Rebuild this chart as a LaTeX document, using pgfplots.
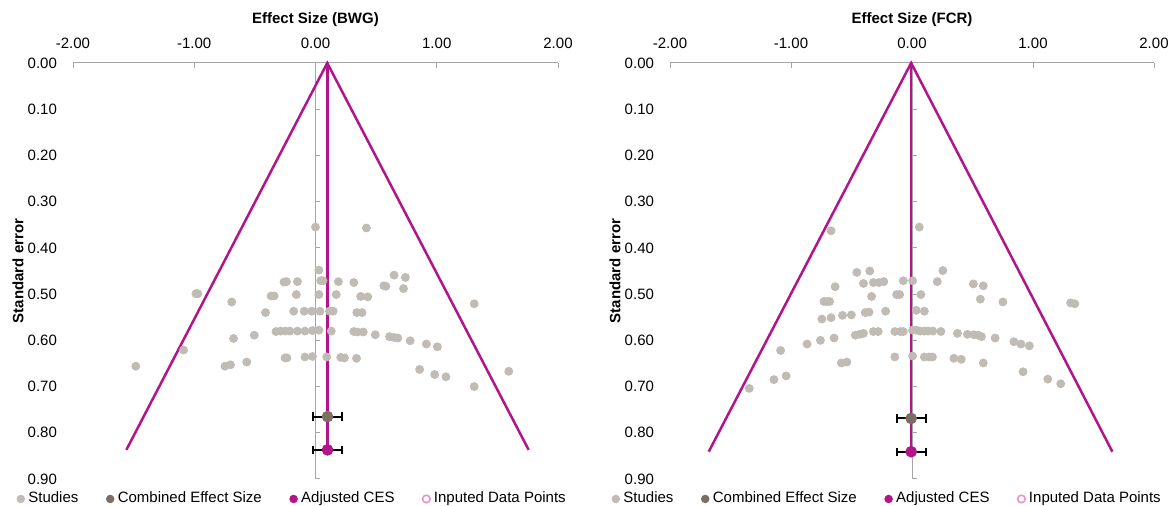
\documentclass[border=0pt]{standalone}
\usepackage{pgfplots}
\pgfplotsset{compat=1.18}
\usepackage{fontspec}
\setmainfont{Liberation Sans}
\definecolor{studygray}{RGB}{192,187,181}
\definecolor{cesbrown}{RGB}{124,110,99}
\definecolor{adjmag}{RGB}{178,20,138}
\definecolor{impink}{RGB}{232,150,200}
\definecolor{axgray}{RGB}{165,165,165}
\newcommand{\fs}{\fontsize{7.5}{9}\selectfont}
\pgfplotsset{
  funnel/.style={
    scale only axis, height=208pt,
    xmin=-2, xmax=2, ymin=0, ymax=0.9, y dir=reverse,
    axis x line=top, axis y line=left,
    x axis line style={axgray, line width=0.5pt, -},
    y axis line style={draw=none, -},
    xtick={-2,-1,0,1,2},
    ytick={0,0.1,0.2,0.3,0.4,0.5,0.6,0.7,0.8,0.9},
    tick align=inside,
    major tick length=2.5pt,
    xtick style={axgray, line width=0.5pt},
    ytick style={draw=none},
    ticklabel style={font=\fs},
    /pgf/number format/.cd, fixed, fixed zerofill, precision=2, assume math mode=true, /pgfplots/.cd,
    xticklabel style={anchor=base, yshift=7.3pt},
    yticklabel style={anchor=east, xshift=-4.5pt},
    label style={font=\bfseries\fs},
    xlabel style={at={(axis description cs:0.5,1.095)}, anchor=base},
    ylabel style={at={(axis description cs:-0.1134,0.5)}, anchor=center},
    ylabel={Standard error},
    legend columns=4,
    legend style={draw=none, fill=none, inner sep=0pt, outer sep=0pt, font=\fs,
      nodes={inner sep=0pt},
      /tikz/every odd column/.append style={column sep=1.9pt},
      /tikz/every even column/.append style={column sep=14pt},
      /tikz/column 2/.append style={column sep=15pt}},
    legend image code/.code={\draw[#1, mark size=1.9pt] plot coordinates {(0pt,0pt)};},
    clip=false,
  },
  studies/.style={only marks, mark=*, mark size=2pt, studygray, mark options={draw=studygray, fill=studygray}},
  funnelline/.style={forget plot, adjmag, line width=1.25pt, no markers},
  centerline/.style={forget plot, axgray, line width=0.5pt, no markers},
  yticks/.style={forget plot, only marks, mark=-, mark size=1.25pt, mark options={axgray, line width=0.5pt}},
  ces/.style={only marks, mark=*, mark size=2.7pt, color=cesbrown,
    error bars/.cd, x dir=both, x explicit, error bar style={black, line width=1pt}, error mark options={black, line width=1.1pt, mark size=2.1pt, rotate=90}},
  adj/.style={only marks, mark=*, mark size=2.7pt, color=adjmag,
    error bars/.cd, x dir=both, x explicit, error bar style={black, line width=1pt}, error mark options={black, line width=1.1pt, mark size=2.1pt, rotate=90}},
}
\begin{document}
\begin{tikzpicture}
\useasboundingbox (0,0) rectangle (584.5pt,253pt);
% ---------------- Left: BWG ----------------
\begin{axis}[funnel, width=242.5pt, at={(36.5pt,13.5pt)}, anchor=south west,
  xlabel={Effect Size (BWG)},
  legend style={at={(axis description cs:-0.1155,-0.048)}, anchor=west}]
\addplot[centerline] coordinates {(0,0) (0,0.9)};
\addplot[yticks] coordinates {(0.0206,0.1) (0.0206,0.2) (0.0206,0.3) (0.0206,0.4) (0.0206,0.5) (0.0206,0.6) (0.0206,0.7) (0.0206,0.8) (0.0206,0.9)};
\addplot[studies] coordinates {
(0.00,0.355) (0.42,0.357) (0.028,0.448)
(-0.26,0.474) (-0.24,0.473) (-0.149,0.473) (0.043,0.471) (0.062,0.471)
(0.189,0.473) (0.316,0.475) (0.564,0.482) (0.58,0.483) (0.648,0.459)
(0.741,0.464) (0.726,0.488) (-0.986,0.499) (-0.971,0.499)
(-0.366,0.504) (-0.341,0.504) (-0.158,0.501) (0.028,0.501) (0.171,0.501)
(0.372,0.505) (0.431,0.506) (-0.691,0.517) (1.309,0.521) (-0.412,0.540)
(-0.18,0.537) (-0.093,0.537) (-0.031,0.537) (0.037,0.537) (0.115,0.537) (0.146,0.537)
(0.341,0.540) (0.384,0.540) (-0.505,0.589) (-0.676,0.596)
(-0.326,0.581) (-0.288,0.580) (-0.248,0.580) (-0.211,0.580) (-0.149,0.580)
(-0.087,0.580) (-0.025,0.579) (0.028,0.578) (0.130,0.580)
(0.316,0.581) (0.347,0.582) (0.394,0.582) (0.493,0.588)
(0.611,0.592) (0.651,0.594) (0.679,0.595) (0.781,0.601)
(0.915,0.608) (1.005,0.614) (-1.088,0.621)
(-0.251,0.638) (-0.236,0.638) (-0.087,0.636) (-0.025,0.635) (0.093,0.636)
(0.208,0.637) (0.239,0.638) (0.338,0.639) (-0.567,0.647)
(-0.747,0.656) (-0.701,0.653) (-1.482,0.656) (0.859,0.663)
(0.983,0.674) (1.076,0.679) (1.594,0.667) (1.309,0.700)
};
\addlegendentry{Studies}
\addplot[funnelline] coordinates {(-1.56,0.837) (0.097,0) (1.758,0.837)};
\addplot[funnelline] coordinates {(0.097,0) (0.097,0.837)};
\addplot[ces] coordinates {(0.099,0.765) +- (0.118,0)};
\addlegendentry{Combined Effect Size}
\addplot[adj] coordinates {(0.099,0.837) +- (0.118,0)};
\addlegendentry{Adjusted CES}
\addlegendimage{only marks, mark=o, impink, mark options={line width=0.8pt}}
\addlegendentry{Inputed Data Points}
\end{axis}
% ---------------- Right: FCR ----------------
\begin{axis}[funnel, width=242pt, at={(335pt,13.5pt)}, anchor=south west,
  xlabel={Effect Size (FCR)},
  legend style={at={(axis description cs:-0.1198,-0.048)}, anchor=west}]
\addplot[centerline] coordinates {(0,0) (0,0.9)};
\addplot[yticks] coordinates {(0.0206,0.1) (0.0206,0.2) (0.0206,0.3) (0.0206,0.4) (0.0206,0.5) (0.0206,0.6) (0.0206,0.7) (0.0206,0.8) (0.0206,0.9)};
\addplot[studies] coordinates {
(0.06,0.355) (-0.669,0.363) (-0.456,0.453) (-0.349,0.450) (0.255,0.449)
(-0.635,0.484) (-0.401,0.477) (-0.319,0.475) (-0.273,0.475) (-0.233,0.473)
(-0.072,0.471) (0.005,0.471) (0.209,0.473) (0.507,0.478) (0.589,0.482)
(-0.127,0.501) (-0.102,0.501) (-0.334,0.505) (0.074,0.501)
(-0.727,0.516) (-0.702,0.516) (-0.681,0.516) (0.565,0.511) (0.751,0.517)
(1.311,0.519) (1.345,0.521) (-0.218,0.537) (-0.386,0.540) (-0.355,0.539)
(-0.574,0.546) (-0.501,0.545) (-0.745,0.554) (-0.669,0.551)
(0.035,0.535) (0.102,0.537)
(-0.468,0.589) (-0.431,0.587) (-0.401,0.585) (-0.319,0.581) (-0.279,0.581)
(-0.142,0.581) (-0.096,0.581) (-0.072,0.581)
(0.005,0.578) (0.035,0.578) (0.066,0.580) (0.102,0.580) (0.133,0.580) (0.172,0.580) (0.239,0.581)
(0.376,0.585) (0.458,0.587) (0.513,0.588) (0.550,0.589) (0.574,0.592)
(0.687,0.595) (0.842,0.603) (0.900,0.608) (0.970,0.612)
(-0.644,0.595) (-0.757,0.600) (-0.867,0.608) (-1.086,0.622)
(-0.142,0.636) (0.005,0.634) (0.102,0.636) (0.142,0.636) (0.169,0.636)
(0.346,0.639) (0.407,0.641) (-0.584,0.649) (-0.538,0.647) (0.589,0.649)
(0.918,0.668) (-1.040,0.677) (-1.141,0.685) (1.122,0.684) (1.229,0.694)
(-1.345,0.704)
};
\addlegendentry{Studies}
\addplot[funnelline] coordinates {(-1.68,0.841) (-0.007,0) (1.656,0.841)};
\addplot[funnelline] coordinates {(-0.007,0) (-0.007,0.841)};
\addplot[ces] coordinates {(-0.007,0.769) +- (0.12,0)};
\addlegendentry{Combined Effect Size}
\addplot[adj] coordinates {(-0.007,0.841) +- (0.12,0)};
\addlegendentry{Adjusted CES}
\addlegendimage{only marks, mark=o, impink, mark options={line width=0.8pt}}
\addlegendentry{Inputed Data Points}
\end{axis}
\end{tikzpicture}
\end{document}
